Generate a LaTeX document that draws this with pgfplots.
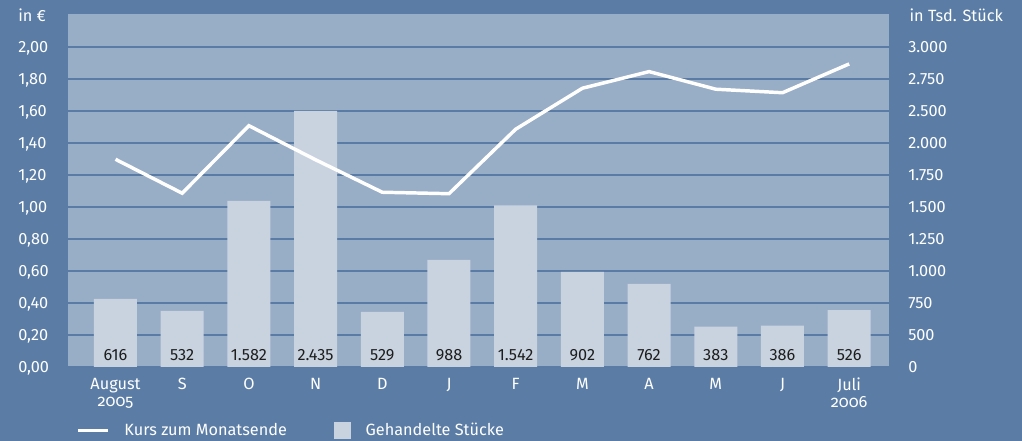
\documentclass[border=0pt]{standalone}
\usepackage{fontspec}
\setmainfont{Fira Sans}
\usepackage{pgfplots}
\pgfplotsset{compat=1.18}
\definecolor{bgblue}{HTML}{5B7DA5}
\definecolor{plotblue}{HTML}{98ADC6}
\definecolor{barblue}{HTML}{C9D3DF}
\definecolor{gridblue}{HTML}{5A7BA3}
\definecolor{valtext}{HTML}{1E1E1E}
\newcommand\os[1]{{\addfontfeature{Numbers=OldStyle}#1}}
\newcommand\chartfont{\fontsize{12.2}{12.4}\selectfont}

\begin{document}
\begin{tikzpicture}
\path[use as bounding box, fill=bgblue] (0,0) rectangle (766.5pt,330.75pt);

% price (left) and traded shares (bars)
\begin{axis}[
  at={(51pt,55.5pt)}, anchor=south west,
  scale only axis, width=615.75pt, height=264.75pt,
  xmin=-0.712, xmax=11.597, ymin=0, ymax=2.206,
  axis background/.style={fill=plotblue},
  axis line style={draw=none}, major tick length=0pt,
  ymajorgrids, grid style={gridblue, line width=1.6pt},
  ytick={0,0.2,0.4,0.6,0.8,1.0,1.2,1.4,1.6,1.8,2.0},
  yticklabels={{0,00},{0,20},{0,40},{0,60},{0,80},{1,00},{1,20},{1,40},{1,60},{1,80},{2,00}},
  yticklabel style={anchor=west, inner sep=0pt, text depth=0pt, xshift=-37.5pt, text=white, font=\chartfont},
  xtick={0,1,2,3,4,5,6,7,8,9,10,11},
  xticklabels={{August\\\os{2005}},S,O,N,D,J,F,M,A,M,J,{Juli\\\os{2006}}},
  xticklabel style={anchor=north, align=center, inner sep=0pt, yshift=-8.25pt, text=white, font=\chartfont},
  legend columns=2,
  legend style={at={(0.0098,-0.1799)}, anchor=west, draw=none, fill=none, inner sep=0pt,
    text=white, font=\chartfont, nodes={inner sep=0pt},
    /tikz/every odd column/.append style={column sep=11pt}},
]
\addlegendimage{legend image code/.code={\draw[white, line width=2.6pt] (0pt,0pt) -- (22.5pt,0pt);}}
\addlegendentry{\makebox[157.5pt][l]{Kurs zum Monatsende}}
\addlegendimage{legend image code/.code={\fill[barblue] (0pt,-6pt) rectangle (12pt,6pt);}}
\addlegendentry{Gehandelte Stücke}

\addplot[ybar, bar width=32.25pt, fill=barblue, draw=none, forget plot] coordinates {
  (0,0.425) (1,0.350) (2,1.038) (3,1.600) (4,0.344) (5,0.669)
  (6,1.010) (7,0.594) (8,0.519) (9,0.253) (10,0.259) (11,0.356)};

\addplot[white, line width=2.6pt, line join=miter, forget plot] coordinates {
  (0,1.298) (1,1.086) (2,1.508) (3,1.295) (4,1.092) (5,1.083)
  (6,1.486) (7,1.742) (8,1.846) (9,1.736) (10,1.714) (11,1.894)};

\addplot[draw=none, forget plot, nodes near coords, nodes near coords align={center},
  point meta=explicit symbolic,
  every node near coord/.append style={inner sep=0pt, text depth=0pt, text=valtext, font=\chartfont}]
  table[meta=lab] {
x y lab
0 0.078 616
1 0.078 532
2 0.078 1.582
3 0.078 2.435
4 0.078 529
5 0.078 988
6 0.078 1.542
7 0.078 902
8 0.078 762
9 0.078 383
10 0.078 386
11 0.078 526
};
\end{axis}

% right scale, in thousand shares
\begin{axis}[
  at={(51pt,55.5pt)}, anchor=south west,
  scale only axis, width=615.75pt, height=264.75pt,
  xmin=-0.712, xmax=11.597, ymin=0, ymax=2.206,
  axis line style={draw=none}, major tick length=0pt,
  xtick=\empty, yticklabel pos=right,
  ytick={0,0.2,0.4,0.6,0.8,1.0,1.2,1.4,1.6,1.8,2.0},
  yticklabels={0,500,750,1.000,1.250,1.500,1.750,2.000,2.500,2.750,3.000},
  yticklabel style={anchor=west, inner sep=0pt, text depth=0pt, xshift=14.25pt, text=white, font=\chartfont},
]
\end{axis}

\node[anchor=west, inner sep=0pt, text depth=0pt, text=white, font=\chartfont] at (13.5pt,319.1pt) {in €};
\node[anchor=west, inner sep=0pt, text depth=0pt, text=white, font=\chartfont] at (682pt,319.1pt) {in Tsd. Stück};
\end{tikzpicture}
\end{document}
